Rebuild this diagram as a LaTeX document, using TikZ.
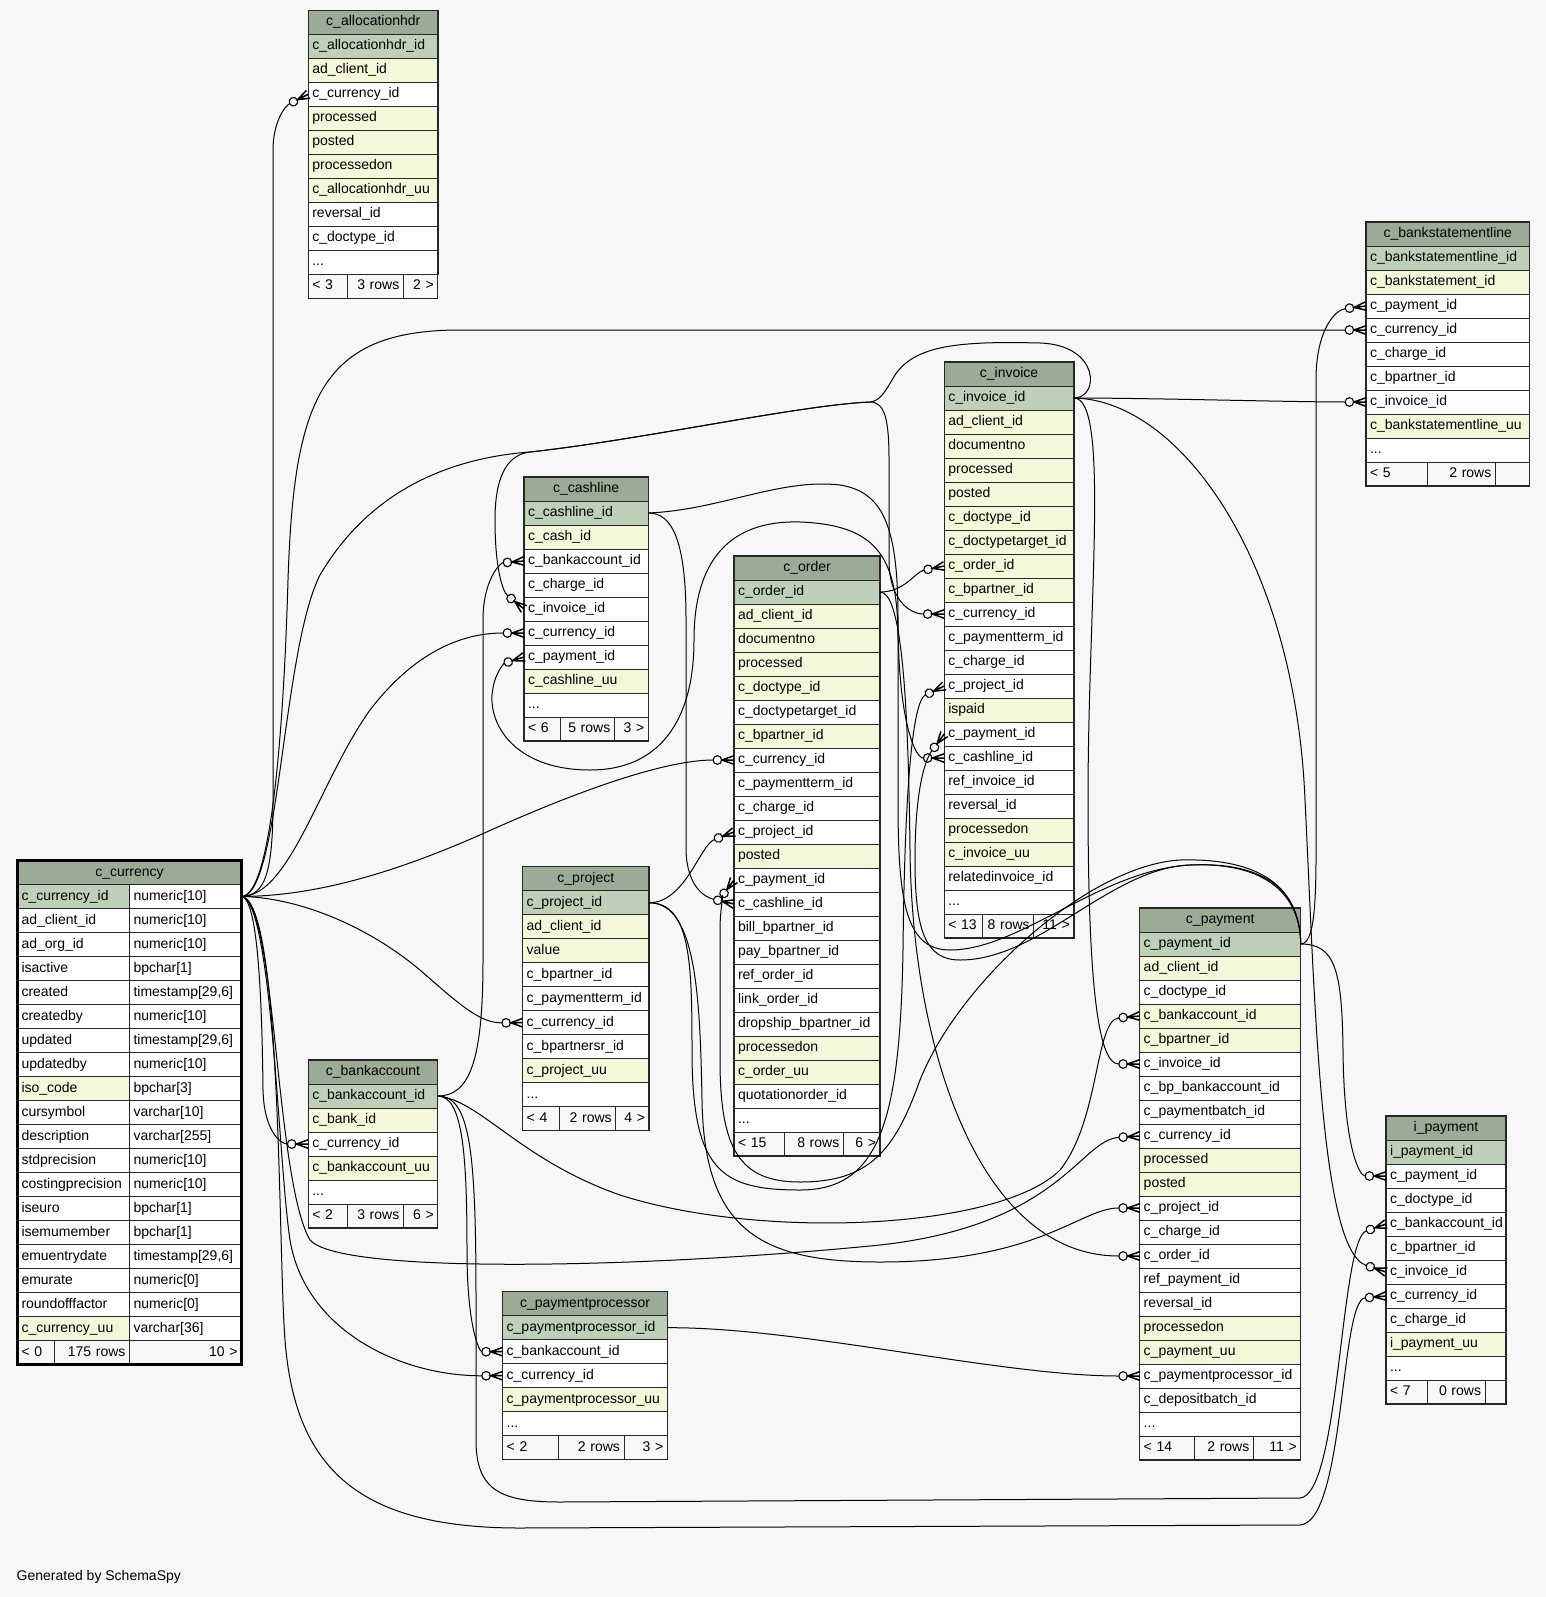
\documentclass[tikz,border=0pt]{standalone}
\usepackage{fontspec}
\setmainfont{Liberation Sans}
\newcommand{\tblfont}{\fontsize{14}{16}\selectfont}
\newcommand{\etcrow}{...}

\definecolor{hdrgreen}{HTML}{9BAB96}
\definecolor{pkgreen}{HTML}{BED1B8}
\definecolor{ixyellow}{HTML}{F4F7DA}
\definecolor{pagebg}{HTML}{F7F7F7}

% crow's foot with an open ring
\pgfdeclarearrow{
  name = crowodot,
  setup code = {
    \pgfarrowssettipend{0pt}
    \pgfarrowssetlineend{-21pt}
    \pgfarrowssetbackend{-21.5pt}
    \pgfarrowssetvisualbackend{-21.5pt}
    \pgfarrowsupperhullpoint{0pt}{4.8pt}
    \pgfarrowsupperhullpoint{-21.5pt}{4.8pt}
  },
  drawing code = {
    \pgfsetdash{}{0pt}
    \pgfsetlinewidth{1.5pt}
    \pgfsetmiterjoin
    \pgfpathmoveto{\pgfqpoint{0pt}{4.3pt}}
    \pgfpathlineto{\pgfqpoint{-12pt}{0pt}}
    \pgfpathlineto{\pgfqpoint{0pt}{-4.3pt}}
    \pgfpathmoveto{\pgfqpoint{0pt}{0pt}}
    \pgfpathlineto{\pgfqpoint{-12pt}{0pt}}
    \pgfusepathqstroke
    \pgfsetlinewidth{1.1pt}
    \pgfpathcircle{\pgfqpoint{-16.6pt}{0pt}}{4.3pt}
    \pgfusepathqstroke
  }
}

\tikzset{
  cell/.style={draw=black!85, line width=0.9pt, rectangle, anchor=north west, outer sep=0pt,
    inner xsep=4pt, inner ysep=0pt, minimum height=24pt, text height=10.5pt, text depth=3.5pt,
    align=left, font=\tblfont},
  hdr/.style={cell, fill=hdrgreen, align=center},
  footl/.style={cell, fill=pagebg, align=left},
  footr/.style={cell, fill=pagebg, align=right},
  tblborder/.style={draw=black!85, line width=1.4pt},
  fk/.style={draw=black, line width=1pt, -crowodot},
}

\begin{document}
\begin{tikzpicture}[x=1pt, y=-1pt]
\useasboundingbox (0,0) rectangle (1545,1597);
\fill[pagebg] (0,0) rectangle (1545,1597);

% c_allocationhdr
\node[hdr, text width=122] (alloc-h) at (308.3,10.3) {c\_allocationhdr};
\foreach \cname/\clr [count=\i] in {c\_allocationhdr\_id/pkgreen, ad\_client\_id/ixyellow,
    c\_currency\_id/white, processed/ixyellow, posted/ixyellow, processedon/ixyellow,
    c\_allocationhdr\_uu/ixyellow, reversal\_id/white, c\_doctype\_id/white, \etcrow/white}
  \node[cell, fill=\clr, text width=122] (alloc-\i) at (308.3, 10.3+24*\i) {\cname};
\node[footl, text width=31] (alloc-f1) at (308.3,274.3) {< 3};
\node[footr, text width=48] (alloc-f2) at (347.3,274.3) {3 rows};
\node[footr, text width=26.4] (alloc-f3) at (403.3,274.3) {2 >};
\draw[tblborder] (alloc-h.north west) rectangle (alloc-f3.south east);

% c_bankstatementline
\node[hdr, text width=155.5] (bsl-h) at (1366,222) {c\_bankstatementline};
\foreach \cname/\clr [count=\i] in {c\_bankstatementline\_id/pkgreen, c\_bankstatement\_id/ixyellow,
    c\_payment\_id/white, c\_currency\_id/white, c\_charge\_id/white, c\_bpartner\_id/white,
    c\_invoice\_id/white, c\_bankstatementline\_uu/ixyellow, \etcrow/white}
  \node[cell, fill=\clr, text width=155.5] (bsl-\i) at (1366, 222+24*\i) {\cname};
\node[footl, text width=53.3] (bsl-f1) at (1366,462) {< 5};
\node[footr, text width=60] (bsl-f2) at (1427.3,462) {2 rows};
\node[footr, text width=26.2] (bsl-f3) at (1495.3,462) {};
\draw[tblborder] (bsl-h.north west) rectangle (bsl-f3.south east);

% c_invoice
\node[hdr, text width=121.5] (inv-h) at (944.3,362) {c\_invoice};
\foreach \cname/\clr [count=\i] in {c\_invoice\_id/pkgreen, ad\_client\_id/ixyellow,
    documentno/ixyellow, processed/ixyellow, posted/ixyellow, c\_doctype\_id/ixyellow,
    c\_doctypetarget\_id/ixyellow, c\_order\_id/ixyellow, c\_bpartner\_id/ixyellow,
    c\_currency\_id/white, c\_paymentterm\_id/white, c\_charge\_id/white, c\_project\_id/white,
    ispaid/ixyellow, c\_payment\_id/white, c\_cashline\_id/white, ref\_invoice\_id/white,
    reversal\_id/white, processedon/ixyellow, c\_invoice\_uu/ixyellow,
    relatedinvoice\_id/white, \etcrow/white}
  \node[cell, fill=\clr, text width=121.5] (inv-\i) at (944.3, 362+24*\i) {\cname};
\node[footl, text width=30.5] (inv-f1) at (944.3,914) {< 13};
\node[footr, text width=42.9] (inv-f2) at (982.8,914) {8 rows};
\node[footr, text width=32.1] (inv-f3) at (1033.7,914) {11 >};
\draw[tblborder] (inv-h.north west) rectangle (inv-f3.south east);

% c_cashline
\node[hdr, text width=116.3] (csh-h) at (524,477) {c\_cashline};
\foreach \cname/\clr [count=\i] in {c\_cashline\_id/pkgreen, c\_cash\_id/ixyellow,
    c\_bankaccount\_id/white, c\_charge\_id/white, c\_invoice\_id/white, c\_currency\_id/white,
    c\_payment\_id/white, c\_cashline\_uu/ixyellow, \etcrow/white}
  \node[cell, fill=\clr, text width=116.3] (csh-\i) at (524, 477+24*\i) {\cname};
\node[footl, text width=28] (csh-f1) at (524,717) {< 6};
\node[footr, text width=46.3] (csh-f2) at (560,717) {5 rows};
\node[footr, text width=26] (csh-f3) at (614.3,717) {3 >};
\draw[tblborder] (csh-h.north west) rectangle (csh-f3.south east);

% c_order
\node[hdr, text width=138] (ord-h) at (734,556) {c\_order};
\foreach \cname/\clr [count=\i] in {c\_order\_id/pkgreen, ad\_client\_id/ixyellow,
    documentno/ixyellow, processed/ixyellow, c\_doctype\_id/ixyellow, c\_doctypetarget\_id/white,
    c\_bpartner\_id/ixyellow, c\_currency\_id/white, c\_paymentterm\_id/white, c\_charge\_id/white,
    c\_project\_id/white, posted/ixyellow, c\_payment\_id/white, c\_cashline\_id/white,
    bill\_bpartner\_id/white, pay\_bpartner\_id/white, ref\_order\_id/white, link\_order\_id/white,
    dropship\_bpartner\_id/white, processedon/ixyellow, c\_order\_uu/ixyellow,
    quotationorder\_id/white, \etcrow/white}
  \node[cell, fill=\clr, text width=138] (ord-\i) at (734, 556+24*\i) {\cname};
\node[footl, text width=42.3] (ord-f1) at (734,1132) {< 15};
\node[footr, text width=51] (ord-f2) at (784.3,1132) {8 rows};
\node[footr, text width=28.7] (ord-f3) at (843.3,1132) {6 >};
\draw[tblborder] (ord-h.north west) rectangle (ord-f3.south east);

% c_project
\node[hdr, text width=118.3] (prj-h) at (522.7,866.7) {c\_project};
\foreach \cname/\clr [count=\i] in {c\_project\_id/pkgreen, ad\_client\_id/ixyellow,
    value/ixyellow, c\_bpartner\_id/white, c\_paymentterm\_id/white, c\_currency\_id/white,
    c\_bpartnersr\_id/white, c\_project\_uu/ixyellow, \etcrow/white}
  \node[cell, fill=\clr, text width=118.3] (prj-\i) at (522.7, 866.7+24*\i) {\cname};
\node[footl, text width=28.6] (prj-f1) at (522.7,1106.7) {< 4};
\node[footr, text width=48.4] (prj-f2) at (559.3,1106.7) {2 rows};
\node[footr, text width=25.3] (prj-f3) at (615.7,1106.7) {4 >};
\draw[tblborder] (prj-h.north west) rectangle (prj-f3.south east);

% c_bankaccount
\node[hdr, text width=121.4] (bnk-h) at (308.3,1060) {c\_bankaccount};
\foreach \cname/\clr [count=\i] in {c\_bankaccount\_id/pkgreen, c\_bank\_id/ixyellow,
    c\_currency\_id/white, c\_bankaccount\_uu/ixyellow, \etcrow/white}
  \node[cell, fill=\clr, text width=121.4] (bnk-\i) at (308.3, 1060+24*\i) {\cname};
\node[footl, text width=31] (bnk-f1) at (308.3,1204) {< 2};
\node[footr, text width=48] (bnk-f2) at (347.3,1204) {3 rows};
\node[footr, text width=26.4] (bnk-f3) at (403.3,1204) {6 >};
\draw[tblborder] (bnk-h.north west) rectangle (bnk-f3.south east);

% c_paymentprocessor
\node[hdr, text width=156.6] (ppr-h) at (502.7,1291.7) {c\_paymentprocessor};
\foreach \cname/\clr [count=\i] in {c\_paymentprocessor\_id/pkgreen, c\_bankaccount\_id/white,
    c\_currency\_id/white, c\_paymentprocessor\_uu/ixyellow, \etcrow/white}
  \node[cell, fill=\clr, text width=156.6] (ppr-\i) at (502.7, 1291.7+24*\i) {\cname};
\node[footl, text width=47.6] (ppr-f1) at (502.7,1435.7) {< 2};
\node[footr, text width=57.7] (ppr-f2) at (558.3,1435.7) {2 rows};
\node[footr, text width=35.3] (ppr-f3) at (624,1435.7) {3 >};
\draw[tblborder] (ppr-h.north west) rectangle (ppr-f3.south east);

% c_payment
\node[hdr, text width=153] (pay-h) at (1139.7,908) {c\_payment};
\foreach \cname/\clr [count=\i] in {c\_payment\_id/pkgreen, ad\_client\_id/ixyellow,
    c\_doctype\_id/white, c\_bankaccount\_id/ixyellow, c\_bpartner\_id/ixyellow,
    c\_invoice\_id/white, c\_bp\_bankaccount\_id/white, c\_paymentbatch\_id/white,
    c\_currency\_id/white, processed/ixyellow, posted/ixyellow, c\_project\_id/white,
    c\_charge\_id/white, c\_order\_id/white, ref\_payment\_id/white, reversal\_id/white,
    processedon/ixyellow, c\_payment\_uu/ixyellow, c\_paymentprocessor\_id/white,
    c\_depositbatch\_id/white, \etcrow/white}
  \node[cell, fill=\clr, text width=153] (pay-\i) at (1139.7, 908+24*\i) {\cname};
\node[footl, text width=46.3] (pay-f1) at (1139.7,1436) {< 14};
\node[footr, text width=51.3] (pay-f2) at (1194,1436) {2 rows};
\node[footr, text width=39.4] (pay-f3) at (1253.3,1436) {11 >};
\draw[tblborder] (pay-h.north west) rectangle (pay-f3.south east);

% i_payment
\node[hdr, text width=112] (ipay-h) at (1386,1116) {i\_payment};
\foreach \cname/\clr [count=\i] in {i\_payment\_id/pkgreen, c\_payment\_id/white,
    c\_doctype\_id/white, c\_bankaccount\_id/white, c\_bpartner\_id/white, c\_invoice\_id/white,
    c\_currency\_id/white, c\_charge\_id/white, i\_payment\_uu/ixyellow, \etcrow/white}
  \node[cell, fill=\clr, text width=112] (ipay-\i) at (1386, 1116+24*\i) {\cname};
\node[footl, text width=33.3] (ipay-f1) at (1386,1380) {< 7};
\node[footr, text width=49.7] (ipay-f2) at (1427.3,1380) {0 rows};
\node[footr, text width=13] (ipay-f3) at (1485,1380) {};
\draw[tblborder] (ipay-h.north west) rectangle (ipay-f3.south east);

% c_currency (two columns, heavy frame)
\node[hdr, text width=216] (cur-h) at (17.5,860.5) {c\_currency};
\foreach \cname/\typ/\clr [count=\i] in {c\_currency\_id/numeric[10]/pkgreen,
    ad\_client\_id/numeric[10]/white, ad\_org\_id/numeric[10]/white, isactive/bpchar[1]/white,
    created/{timestamp[29,6]}/white, createdby/numeric[10]/white,
    updated/{timestamp[29,6]}/white, updatedby/numeric[10]/white, iso\_code/bpchar[3]/ixyellow,
    cursymbol/varchar[10]/white, description/varchar[255]/white, stdprecision/numeric[10]/white,
    costingprecision/numeric[10]/white, iseuro/bpchar[1]/white, isemumember/bpchar[1]/white,
    emuentrydate/{timestamp[29,6]}/white, emurate/numeric[0]/white,
    roundofffactor/numeric[0]/white, c\_currency\_uu/varchar[36]/ixyellow}
{
  \node[cell, fill=\clr, text width=104] (cur-\i) at (17.5, 860.5+24*\i) {\cname};
  \node[cell, fill=white, text width=104] (curt-\i) at (129.5, 860.5+24*\i) {\typ};
}
\node[footl, text width=29] (cur-f1) at (17.5,1340.5) {< 0};
\node[footr, text width=67] (cur-f2) at (54.5,1340.5) {175 rows};
\node[footr, text width=104] (cur-f3) at (129.5,1340.5) {10 >};
\draw[line width=3pt] (cur-h.north west) rectangle (cur-f3.south east);

% from c_currency
\draw[fk] (curt-1.east) .. controls (266,896) and (273,870) .. (273,800) -- (273,150)
  .. controls (273,122) and (285,106) .. (alloc-3.west);
\draw[fk] (curt-1.east) .. controls (272,896) and (284,720) .. (288,580)
  .. controls (294,400) and (320,330) .. (460,330) -- (bsl-4.west);
\draw[fk] (curt-1.east) .. controls (280,896) and (282,650) .. (320,575)
  .. controls (370,490) and (450,458) .. (530,452)
  .. controls (640,440) and (800,405) .. (870,402)
  .. controls (885,402) and (889,420) .. (889,460) -- (889,560)
  .. controls (889,600) and (910,614) .. (inv-10.west);
\draw[fk] (curt-1.east) .. controls (290,896) and (320,780) .. (370,710)
  .. controls (420,645) and (470,633) .. (csh-6.west);
\draw[fk] (curt-1.east) .. controls (320,896) and (400,870) .. (480,835)
  .. controls (590,785) and (670,760) .. (ord-8.west);
\draw[fk] (curt-1.east) .. controls (290,897) and (360,920) .. (420,970)
  .. controls (460,1005) and (480,1023) .. (prj-6.west);
\draw[fk] (curt-1.east) .. controls (258,898) and (262,1000) .. (263,1090)
  .. controls (264,1130) and (280,1144) .. (bnk-3.west);
\draw[fk] (curt-1.east) .. controls (272,900) and (278,1160) .. (290,1240)
  .. controls (305,1330) and (400,1376) .. (ppr-3.west);
\draw[fk] (curt-1.east) .. controls (276,900) and (275,1180) .. (310,1240)
  .. controls (340,1275) and (650,1268) .. (880,1245)
  .. controls (1060,1225) and (1080,1140) .. (pay-9.west);
\draw[fk] (curt-1.east) .. controls (282,900) and (278,1250) .. (285,1340)
  .. controls (295,1470) and (360,1528) .. (520,1528) -- (1300,1525)
  .. controls (1345,1522) and (1340,1300) .. (ipay-7.west);

% from c_invoice
\draw[fk] (inv-1.east) .. controls (1150,398) and (1290,402) .. (bsl-7.west);
\draw[fk] (inv-1.east) .. controls (1100,398) and (1100,345) .. (1040,343)
  .. controls (960,341) and (915,345) .. (895,375)
  .. controls (885,392) and (880,401) .. (870,402)
  .. controls (800,405) and (640,440) .. (530,452)
  .. controls (505,455) and (495,480) .. (495,520)
  .. controls (495,570) and (503,592) .. (csh-5.west);
\draw[fk] (inv-1.east) .. controls (1110,398) and (1088,600) .. (1088,800)
  .. controls (1088,1000) and (1100,1064) .. (pay-6.west);
\draw[fk] (inv-1.east) .. controls (1180,400) and (1295,560) .. (1305,800)
  .. controls (1315,1000) and (1320,1250) .. (ipay-6.west);

% from c_order
\draw[fk] (ord-1.east) .. controls (905,592) and (915,572) .. (inv-8.west);
\draw[fk] (ord-1.east) .. controls (900,592) and (908,680) .. (910,850)
  .. controls (912,1050) and (980,1256) .. (pay-14.west);

% from c_project
\draw[fk] (prj-1.east) .. controls (685,903) and (700,845) .. (ord-11.west);
\draw[fk] (prj-1.east) .. controls (690,903) and (692,960) .. (692,1050)
  .. controls (692,1170) and (720,1190) .. (800,1190)
  .. controls (880,1190) and (900,1120) .. (903,950)
  .. controls (905,760) and (915,700) .. (inv-13.west);
\draw[fk] (prj-1.east) .. controls (695,903) and (700,990) .. (702,1100)
  .. controls (704,1230) and (760,1262) .. (880,1262)
  .. controls (1040,1262) and (1080,1208) .. (pay-12.west);

% from c_cashline
\draw[fk] (csh-1.east) .. controls (672,513) and (686,540) .. (686,620) -- (686,850)
  .. controls (687,890) and (708,898) .. (ord-14.west);
\draw[fk] (csh-1.east) .. controls (720,510) and (780,478) .. (840,485)
  .. controls (885,492) and (898,530) .. (898,620)
  .. controls (898,720) and (915,758) .. (inv-16.west);

% from c_payment
\draw[fk] (pay-1.east) .. controls (1318,944) and (1316,880) .. (1316,800) -- (1316,380)
  .. controls (1316,330) and (1335,310) .. (bsl-3.west);
\draw[fk] (pay-1.east) .. controls (1300,890) and (1260,862) .. (1190,865)
  .. controls (1100,870) and (1020,950) .. (950,950)
  .. controls (905,950) and (898,900) .. (898,800) -- (898,640)
  .. controls (898,560) and (880,525) .. (800,522)
  .. controls (730,520) and (694,560) .. (694,640)
  .. controls (694,720) and (660,770) .. (590,770)
  .. controls (520,770) and (490,730) .. (492,695)
  .. controls (494,672) and (505,663) .. (csh-7.west);
\draw[fk] (pay-1.east) .. controls (1300,880) and (1250,858) .. (1180,860)
  .. controls (1090,865) and (960,980) .. (920,1080)
  .. controls (895,1150) and (870,1182) .. (800,1182)
  .. controls (740,1182) and (720,1150) .. (720,1060) -- (720,930)
  .. controls (720,905) and (725,892) .. (ord-13.west);
\draw[fk] (pay-1.east) .. controls (1300,880) and (1250,862) .. (1190,865)
  .. controls (1110,868) and (1040,960) .. (960,960)
  .. controls (925,960) and (915,930) .. (915,860)
  .. controls (915,790) and (925,760) .. (inv-15.west);
\draw[fk] (pay-1.east) .. controls (1335,944) and (1342,970) .. (1343,1050)
  .. controls (1344,1150) and (1360,1176) .. (ipay-2.west);

% from c_bankaccount
\draw[fk] (bnk-1.east) .. controls (470,1096) and (483,1060) .. (483,960) -- (483,620)
  .. controls (483,580) and (500,563) .. (csh-3.west);
\draw[fk] (bnk-1.east) .. controls (462,1096) and (467,1150) .. (467,1250)
  .. controls (467,1330) and (480,1351.7) .. (ppr-2.west);
\draw[fk] (bnk-1.east) .. controls (480,1100) and (520,1160) .. (620,1195)
  .. controls (760,1240) and (1000,1230) .. (1060,1170)
  .. controls (1100,1120) and (1095,1020) .. (pay-4.west);
\draw[fk] (bnk-1.east) .. controls (470,1096) and (476,1150) .. (476,1300) -- (476,1440)
  .. controls (476,1490) and (500,1502) .. (560,1502) -- (1300,1498)
  .. controls (1340,1495) and (1340,1240) .. (ipay-4.west);

% from c_paymentprocessor
\draw[fk] (ppr-1.east) .. controls (800,1327) and (1000,1376) .. (pay-19.west);

\node[anchor=west, font=\tblfont, inner sep=0pt] (credit) at (16.5,1577) {Generated by SchemaSpy};
\end{tikzpicture}
\end{document}
